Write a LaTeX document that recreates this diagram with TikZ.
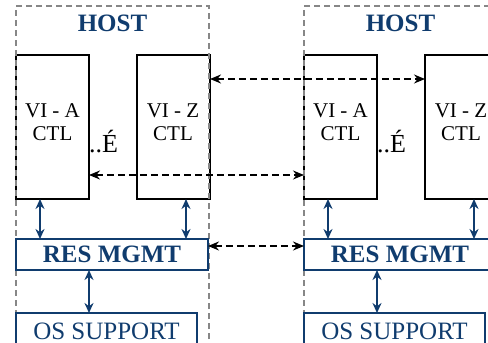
\documentclass[tikz,border=0pt]{standalone}
\usepackage{fontspec}
\setmainfont{Liberation Serif}
\usetikzlibrary{arrows.meta,calc}
\definecolor{navy}{RGB}{16,60,110}
\definecolor{hostgray}{RGB}{135,135,135}
\begin{document}
\begin{tikzpicture}[x=1pt,y=-1pt,
 vibox/.style={draw=black,line width=1.7pt,inner sep=0,outer sep=0,minimum width=73pt,minimum height=144pt,anchor=north west},
 hostbox/.style={draw=hostgray,line width=1.7pt,dash pattern=on 6pt off 4pt,inner sep=0,outer sep=0,minimum width=193pt,minimum height=360pt,anchor=north west},
 resbox/.style={draw=navy,line width=2.3pt,inner sep=0,outer sep=0,minimum width=192pt,minimum height=31pt,anchor=north west,text=navy,font=\fontsize{25}{30}\selectfont\bfseries},
 osbox/.style={draw=navy,line width=1.8pt,inner sep=0,outer sep=0,minimum width=181pt,minimum height=36pt,anchor=north west,text=navy,font=\fontsize{25}{30}\selectfont},
 vitext/.style={font=\fontsize{21}{23}\selectfont,anchor=base,inner sep=0},
 hosttext/.style={text=navy,font=\fontsize{25}{30}\selectfont\bfseries,anchor=base,inner sep=0},
 dotstext/.style={font=\fontsize{26}{30}\selectfont,anchor=base west,inner sep=0},
 link/.style={draw=black,line width=1.5pt,dash pattern=on 7pt off 4pt,{Stealth[length=11pt,width=9pt]}-{Stealth[length=11pt,width=9pt]}},
 vlink/.style={draw=navy,line width=1.9pt,{Stealth[length=10pt,width=9pt]}-{Stealth[length=10pt,width=9pt]}}
]
\useasboundingbox (0,0) rectangle (488,343);
\foreach \o/\s in {0/l,288/r}{
  \node[vibox] (\s-a) at (16+\o,55) {};
  \node[vibox] (\s-z) at (137+\o,55) {};
  \node[hostbox] (\s-host) at (16+\o,6) {};
  \node[resbox] (\s-r) at (16+\o,239) {RES MGMT};
  \node[osbox] (\s-o) at (16+\o,313) {OS SUPPORT};
  \node[hosttext] (\s-ht) at (112.5+\o,31) {HOST};
  \node[vitext] (\s-a1) at (52.5+\o,117) {VI - A};
  \node[vitext] (\s-a2) at (52.5+\o,140) {CTL};
  \node[vitext] (\s-z1) at (173+\o,117) {VI - Z};
  \node[vitext] (\s-z2) at (173+\o,140) {CTL};
  \node[dotstext] (\s-d) at (89+\o,152) {..É};
  \coordinate (\s-v1) at ([xshift=24pt]\s-a.south west);
  \coordinate (\s-v2) at ([xshift=-24pt]\s-z.south east);
  \draw[vlink] (\s-v1) -- (\s-v1 |- \s-r.north);
  \draw[vlink] (\s-v2) -- (\s-v2 |- \s-r.north);
  \draw[vlink] (\s-a.south east |- \s-r.south) -- (\s-a.south east |- \s-o.north);
}
\draw[link] ([yshift=-24pt]l-z.north east) -- ([yshift=-24pt]r-z.north west);
\draw[link] ([yshift=-120pt]l-a.north east) -- ([yshift=-120pt]r-a.north west);
\draw[link] ([yshift=-7pt]l-r.north east) -- ([yshift=-7pt]r-r.north west);
\end{tikzpicture}
\end{document}
